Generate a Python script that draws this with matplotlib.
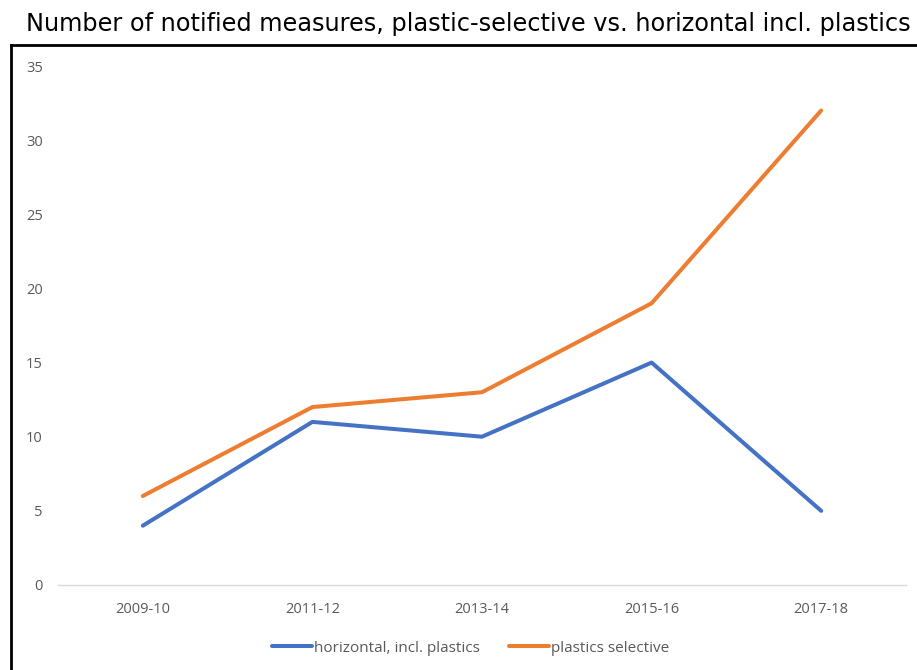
import matplotlib
matplotlib.use("Agg")
import matplotlib.pyplot as plt
from matplotlib.lines import Line2D

categories = ["2009-10", "2011-12", "2013-14", "2015-16", "2017-18"]
horizontal = [4, 11, 10, 15, 5]
selective = [6, 12, 13, 19, 32]
yticks = [0, 5, 10, 15, 20, 25, 30, 35]

W, H = 917, 670
fig = plt.figure(figsize=(W / 100, H / 100), dpi=100)
fig.patch.set_facecolor("white")

# Title
fig.text(468 / W, 1 - 24 / H, "Number of notified measures, plastic-selective vs. horizontal incl. plastics",
         ha="center", va="center", fontsize=17.3, family="DejaVu Sans", color="black")

# Border (clipped chart frame)
fig.add_artist(Line2D([11 / W, 11 / W], [0, 1 - 45 / H], transform=fig.transFigure,
                      color="black", lw=2, solid_capstyle="projecting"))
fig.add_artist(Line2D([11 / W, 1], [1 - 45 / H, 1 - 45 / H], transform=fig.transFigure,
                      color="black", lw=2, solid_capstyle="projecting"))

ax = fig.add_axes([58 / W, 85 / H, (906 - 58) / W, (585 - 66) / H])
x = list(range(len(categories)))
l1, = ax.plot(x, horizontal, color="#4472C4", lw=2.9, solid_capstyle="round", solid_joinstyle="round",
              label="horizontal, incl. plastics")
l2, = ax.plot(x, selective, color="#ED7D31", lw=2.9, solid_capstyle="round", solid_joinstyle="round",
              label="plastics selective")

ax.set_xlim(-0.5, len(categories) - 0.5)
ax.set_ylim(0, 35)
ax.set_yticks(yticks)
ax.set_xticks(x)
ax.set_xticklabels(categories)
for s in ["top", "right", "left"]:
    ax.spines[s].set_visible(False)
ax.spines["bottom"].set_color("#D9D9D9")
ax.spines["bottom"].set_linewidth(1)
ax.tick_params(axis="both", length=0, colors="#595959", labelsize=10.5)
ax.tick_params(axis="y", pad=11)
ax.tick_params(axis="x", pad=12.5)
for lab in ax.get_xticklabels() + ax.get_yticklabels():
    lab.set_family("Open Sans")

leg = fig.legend(handles=[l1, l2], loc="center", bbox_to_anchor=(471 / W, 1 - 648 / H), ncol=2,
                 frameon=False, handlelength=2.6, handletextpad=0.15, columnspacing=1.9,
                 prop={"family": "Open Sans", "size": 11})
for t in leg.get_texts():
    t.set_color("#595959")

fig.savefig("out.png", dpi=100)
